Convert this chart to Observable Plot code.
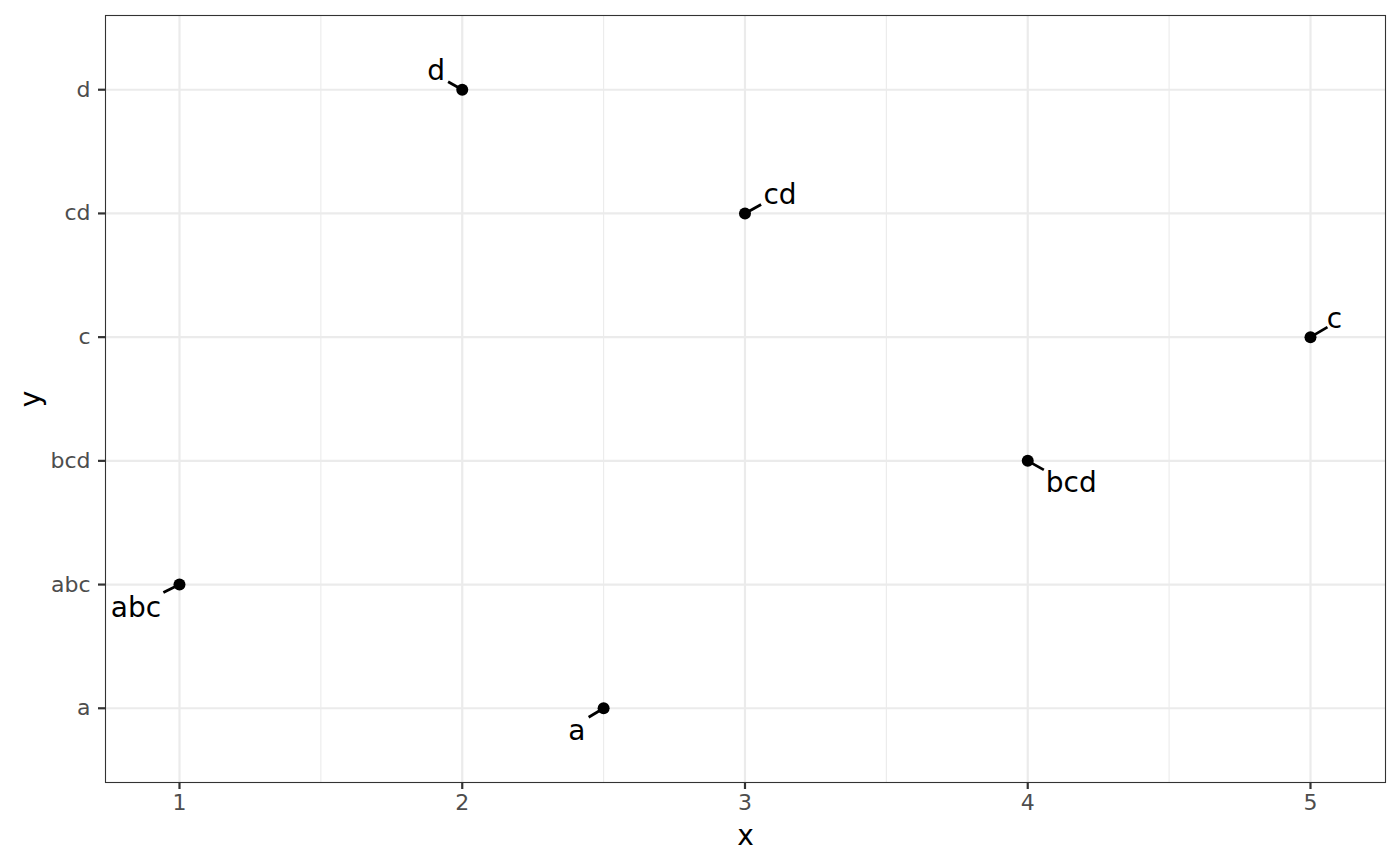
<!DOCTYPE html>
<html>
<head>
<meta charset="utf-8">
<script src="https://cdn.jsdelivr.net/npm/d3@7"></script>
<script src="https://cdn.jsdelivr.net/npm/@observablehq/plot@0.6"></script>
<style>
  html, body { margin: 0; padding: 0; background: #fff; }
  svg { font-family: "DejaVu Sans", sans-serif; }
  g[aria-label="x-axis tick label"], g[aria-label="y-axis tick label"] { fill: #4d4d4d; }
</style>
</head>
<body>
<div id="chart"></div>
<script>
// categories (y, discrete) in axis order bottom to top
const categories = ["a", "abc", "bcd", "c", "cd", "d"];
// points
const pointX = [1, 2, 2.5, 3, 4, 5];
const pointY = ["abc", "d", "a", "cd", "bcd", "c"];
const pointLabel = ["abc", "d", "a", "cd", "bcd", "c"];
// repelled label positions (data units; y as offset in category index units)
const labelX = [0.846, 1.908, 2.405, 3.124, 4.154, 5.085];
const labelY = [0.811, 5.153, -0.183, 4.145, 1.819, 3.148];
// segment ends near labels
const segEndX = [0.943, 1.950, 2.447, 3.057, 4.057, 5.060];
const segEndY = [0.935, 5.065, -0.073, 4.073, 1.927, 3.081];
// axis ticks
const xTicks = [1, 2, 3, 4, 5];
const xMinor = [1.5, 2.5, 3.5, 4.5];

const idx = c => categories.indexOf(c);
const pts = pointX.map((x, i) => ({
  x, y: idx(pointY[i]), label: pointLabel[i],
  lx: labelX[i], ly: labelY[i], sx: segEndX[i], sy: segEndY[i]
}));
const yIdx = categories.map((c, i) => i);

const chart = Plot.plot({
  width: 1400,
  height: 866,
  marginLeft: 105,
  marginRight: 15,
  marginTop: 15,
  marginBottom: 84,
  style: { fontFamily: "DejaVu Sans, sans-serif", background: "#fff" },
  x: { domain: [0.7383, 5.2653], ticks: xTicks },
  y: { domain: [-0.6, 5.6], ticks: yIdx },
  marks: [
    Plot.ruleX(xMinor, { stroke: "#ebebeb", strokeWidth: 1.1 }),
    Plot.ruleX(xTicks, { stroke: "#ebebeb", strokeWidth: 2.2 }),
    Plot.ruleY(yIdx, { stroke: "#ebebeb", strokeWidth: 2.2 }),
    Plot.frame({ stroke: "#333333", strokeWidth: 1.1 }),
    Plot.axisX(xTicks, { tickSize: 7, tickPadding: 5, stroke: "#333333", strokeWidth: 2.2, fontSize: 22, label: null,
      tickFormat: d => String(d) }),
    Plot.axisY(yIdx, { tickSize: 7, tickPadding: 8, stroke: "#333333", strokeWidth: 2.2, fontSize: 22, label: null,
      tickFormat: i => categories[i] }),
    Plot.text(["x"], { frameAnchor: "bottom", lineAnchor: "middle", textAnchor: "middle", dy: 54, fontSize: 28, fill: "#000" }),
    Plot.text(["y"], { frameAnchor: "left", lineAnchor: "middle", textAnchor: "middle", dx: -74, rotate: -90, fontSize: 28, fill: "#000" }),
    Plot.link(pts, { x1: "x", y1: "y", x2: "sx", y2: "sy", stroke: "#000", strokeWidth: 2.8 }),
    Plot.dot(pts, { x: "x", y: "y", r: 6, fill: "#000", stroke: "none" }),
    Plot.text(pts, { x: "lx", y: "ly", text: "label", fontSize: 28, fill: "#000" })
  ]
});
document.getElementById("chart").appendChild(chart);
</script>
</body>
</html>
